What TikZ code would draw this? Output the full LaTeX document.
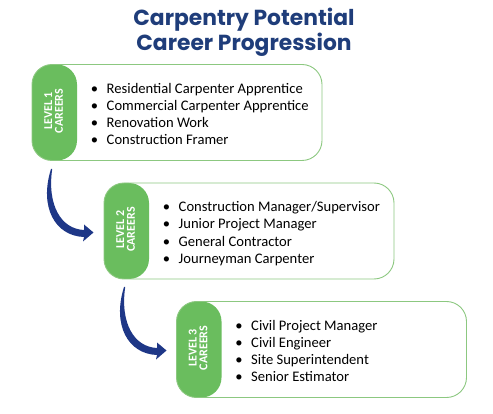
\documentclass[tikz,border=0pt]{standalone}
\usepackage{fontspec}
\setmainfont{Carlito}
\newfontfamily\titlefont{Poppins}
\definecolor{lvgreen}{RGB}{106,189,94}
\definecolor{lvborder}{RGB}{140,200,128}
\definecolor{titleblue}{RGB}{31,61,122}
\definecolor{arrowblue}{RGB}{30,55,135}
\begin{document}
\begin{tikzpicture}[x=1pt,y=-1pt,
  levelbox/.style={draw=lvborder, line width=0.9pt, fill=white, rounded corners=20pt,
    minimum width=290pt, minimum height=96pt, inner sep=0pt,
    path picture={\fill[lvgreen] (path picture bounding box.north west) rectangle ([xshift=45pt]path picture bounding box.south west);}},
  levellabel/.style={text=white, font=\bfseries\fontsize{12}{10.8}\selectfont, rotate=90, align=center, inner sep=0pt},
  listtext/.style={anchor=west, inner sep=0pt, font=\fontsize{14.6}{17.3}\selectfont, text=black},
  titletext/.style={anchor=base, inner sep=0pt, text=titleblue, font=\titlefont\bfseries\fontsize{21.8}{24}\selectfont},
  bendarrow/.pic={
    \fill[arrowblue] (0,0) .. controls (-12,38) and (4,67) .. (33,68)
      -- (32,72.5) -- (42.5,63.5) -- (33,55.5) -- (33,61)
      .. controls (10,60) and (-4,36) .. (1.2,0) -- cycle;
  }
]
\useasboundingbox (0,0) rectangle (493,414);
\newcommand{\itm}[1]{\makebox[16pt][l]{\textbullet}#1}

\node[titletext] (t1) at (244,26) {Carpentry Potential};
\node[titletext] (t2) at (244,50.7) {Career Progression};

\node[levelbox] (b1) at (177,112.5) {};
\node[levelbox] (b2) at (249,231) {};
\node[levelbox] (b3) at (321.5,349.5) {};

\node[levellabel] (lab1) at ([xshift=22pt,yshift=1.5pt]b1.west) {LEVEL 1\\CAREERS};
\node[levellabel] (lab2) at ([xshift=22pt,yshift=1.5pt]b2.west) {LEVEL 2\\CAREERS};
\node[levellabel] (lab3) at ([xshift=22pt,yshift=1.5pt]b3.west) {LEVEL 3\\CAREERS};

\node[listtext] (l1) at ([xshift=59pt,yshift=-3pt]b1.west) {\begin{tabular}{@{}l@{}}
\itm{Residential Carpenter Apprentice}\\
\itm{Commercial Carpenter Apprentice}\\
\itm{Renovation Work}\\
\itm{Construction Framer}
\end{tabular}};
\node[listtext] (l2) at ([xshift=59pt,yshift=-3pt]b2.west) {\begin{tabular}{@{}l@{}}
\itm{Construction Manager/Supervisor}\\
\itm{Junior Project Manager}\\
\itm{General Contractor}\\
\itm{Journeyman Carpenter}
\end{tabular}};
\node[listtext] (l3) at ([xshift=59pt,yshift=-3pt]b3.west) {\begin{tabular}{@{}l@{}}
\itm{Civil Project Manager}\\
\itm{Civil Engineer}\\
\itm{Site Superintendent}\\
\itm{Senior Estimator}
\end{tabular}};

\coordinate (a1) at (51,169);
\coordinate (a2) at (124,287);
\pic at (a1) {bendarrow};
\pic at (a2) {bendarrow};
\end{tikzpicture}
\end{document}
